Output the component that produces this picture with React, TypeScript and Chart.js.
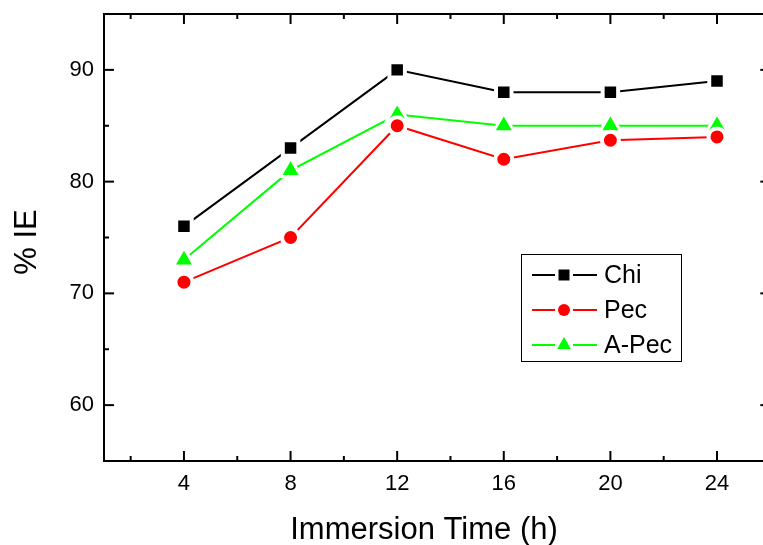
import React, { useEffect, useRef } from 'react';
import { Chart, registerables } from 'chart.js';

Chart.register(...registerables);

// ---- data ----
const times = [4, 8, 12, 16, 20, 24];
const chiIE = [76, 83, 90, 88, 88, 89];
const pecIE = [71, 75, 85, 82, 83.7, 84];
const aPecIE = [73, 81, 86, 85, 85, 85];
const seriesLabels = ['Chi', 'Pec', 'A-Pec'];
const xMajorTicks = [4, 8, 12, 16, 20, 24];
const xMinorTicks = [2, 6, 10, 14, 18, 22, 26];
const yMajorTicks = [60, 70, 80, 90];
const yMinorTicks = [65, 75, 85];
const xTitle = 'Immersion Time (h)';
const yTitle = '% IE';

const FONT = '"Liberation Sans", Arial, Helvetica, sans-serif';
const CANVAS_W = 775;
const CANVAS_H = 545;

function drawMarker(ctx: CanvasRenderingContext2D, style: string, x: number, y: number, color: string) {
  ctx.save();
  ctx.fillStyle = color;
  ctx.beginPath();
  if (style === 'rect') {
    ctx.rect(x - 5.5, y - 5.5, 11, 11);
  } else if (style === 'circle') {
    ctx.arc(x, y, 6, 0, Math.PI * 2);
  } else {
    const R = 8;
    let a = 0;
    ctx.moveTo(x + Math.sin(a) * R, y - Math.cos(a) * R);
    a += (2 * Math.PI) / 3;
    ctx.lineTo(x + Math.sin(a) * R, y - Math.cos(a) * R);
    a += (2 * Math.PI) / 3;
    ctx.lineTo(x + Math.sin(a) * R, y - Math.cos(a) * R);
    ctx.closePath();
  }
  ctx.fill();
  ctx.restore();
}

const framePlugin = {
  id: 'originFrame',
  afterDraw(chart: any) {
    const ctx: CanvasRenderingContext2D = chart.ctx;
    const { left, right, top, bottom } = chart.chartArea;
    const xs = chart.scales.x;
    const ys = chart.scales.y;
    ctx.save();
    ctx.strokeStyle = '#000';
    ctx.lineWidth = 2;
    ctx.lineCap = 'butt';
    // frame
    ctx.beginPath();
    ctx.moveTo(left, top);
    ctx.lineTo(left, bottom);
    ctx.lineTo(right, bottom);
    ctx.lineTo(right, top);
    ctx.closePath();
    ctx.stroke();
    // ticks (inward)
    const tick = (x1: number, y1: number, x2: number, y2: number) => {
      ctx.beginPath();
      ctx.moveTo(x1, y1);
      ctx.lineTo(x2, y2);
      ctx.stroke();
    };
    xMajorTicks.forEach((v) => {
      const p = xs.getPixelForValue(v);
      tick(p, bottom, p, bottom - 10);
      tick(p, top, p, top + 10);
    });
    xMinorTicks.forEach((v) => {
      const p = xs.getPixelForValue(v);
      tick(p, bottom, p, bottom - 5);
      tick(p, top, p, top + 5);
    });
    yMajorTicks.forEach((v) => {
      const p = ys.getPixelForValue(v);
      tick(left, p, left + 10, p);
      tick(right, p, right - 10, p);
    });
    yMinorTicks.forEach((v) => {
      const p = ys.getPixelForValue(v);
      tick(left, p, left + 5, p);
      tick(right, p, right - 5, p);
    });

    // axis titles
    ctx.fillStyle = '#000';
    ctx.font = `31px ${FONT}`;
    ctx.textAlign = 'center';
    ctx.textBaseline = 'alphabetic';
    ctx.fillText(xTitle, 424, 539);
    ctx.save();
    ctx.translate(36, 242);
    ctx.rotate(-Math.PI / 2);
    ctx.fillText(yTitle, 0, 0);
    ctx.restore();

    // legend
    ctx.lineWidth = 1;
    ctx.strokeStyle = '#000';
    ctx.strokeRect(521.5, 254.5, 160, 107);
    const rows = [275, 310, 345];
    chart.data.datasets.forEach((ds: any, i: number) => {
      const y = rows[i];
      ctx.strokeStyle = ds.borderColor;
      ctx.lineWidth = 2;
      tick(532, y, 555, y);
      tick(573, y, 597, y);
      drawMarker(ctx, ds.pointStyle, 564, y, ds.borderColor);
      ctx.fillStyle = '#000';
      ctx.font = `25px ${FONT}`;
      ctx.textAlign = 'left';
      ctx.textBaseline = 'middle';
      ctx.fillText(ds.label, 604, y + 1);
    });
    ctx.restore();
  },
};

export default function App() {
  const ref = useRef<HTMLCanvasElement | null>(null);

  useEffect(() => {
    if (!ref.current) return;
    const mk = (vals: number[]) => times.map((t, i) => ({ x: t, y: vals[i] }));
    const chart = new Chart(ref.current, {
      type: 'line',
      data: {
        datasets: [
          {
            label: seriesLabels[0],
            data: mk(chiIE),
            borderColor: '#000000',
            backgroundColor: '#000000',
            pointBackgroundColor: '#000000',
            pointBorderColor: '#ffffff',
            pointBorderWidth: 4,
            pointStyle: 'rect',
            pointRadius: 10.96,
            borderWidth: 2,
            tension: 0,
          },
          {
            label: seriesLabels[1],
            data: mk(pecIE),
            borderColor: '#ff0000',
            backgroundColor: '#ff0000',
            pointBackgroundColor: '#ff0000',
            pointBorderColor: '#ffffff',
            pointBorderWidth: 4,
            pointStyle: 'circle',
            pointRadius: 8.5,
            borderWidth: 2,
            tension: 0,
          },
          {
            label: seriesLabels[2],
            data: mk(aPecIE),
            borderColor: '#00ff00',
            backgroundColor: '#00ff00',
            pointBackgroundColor: '#00ff00',
            pointBorderColor: '#ffffff',
            pointBorderWidth: 3,
            pointStyle: 'triangle',
            pointRadius: 12.2,
            borderWidth: 2,
            tension: 0,
          },
        ],
      },
      options: {
        animation: false,
        responsive: false,
        devicePixelRatio: 1,
        events: [],
        layout: { autoPadding: false, padding: { top: 14, right: CANVAS_W - 770.3, left: 0, bottom: 0 } },
        plugins: { legend: { display: false }, tooltip: { enabled: false } },
        scales: {
          x: {
            type: 'linear',
            min: 1,
            max: 26,
            afterFit: (s: any) => {
              s.height = 84;
              s.paddingLeft = 0;
              s.paddingRight = 0;
            },
            afterBuildTicks: (s: any) => {
              s.ticks = xMajorTicks.map((v) => ({ value: v }));
            },
            grid: { display: false, drawTicks: false, tickLength: 0 },
            border: { display: false },
            ticks: {
              color: '#000',
              font: { family: FONT, size: 22 },
              padding: 10,
              maxRotation: 0,
              autoSkip: false,
            },
          },
          y: {
            type: 'linear',
            min: 55,
            max: 95,
            afterFit: (s: any) => {
              s.width = 104;
              s.paddingTop = 0;
              s.paddingBottom = 0;
            },
            afterBuildTicks: (s: any) => {
              s.ticks = yMajorTicks.map((v) => ({ value: v }));
            },
            grid: { display: false, drawTicks: false, tickLength: 0 },
            border: { display: false },
            ticks: {
              color: '#000',
              font: { family: FONT, size: 22 },
              padding: 10,
              autoSkip: false,
            },
          },
        },
      },
      plugins: [framePlugin],
    } as any);
    return () => chart.destroy();
  }, []);

  return (
    <div
      style={{
        position: 'absolute',
        left: 0,
        top: 0,
        width: 763,
        height: 545,
        overflow: 'hidden',
        background: '#fff',
      }}
    >
      <canvas ref={ref} width={CANVAS_W} height={CANVAS_H} style={{ display: 'block', width: CANVAS_W, height: CANVAS_H }} />
    </div>
  );
}
